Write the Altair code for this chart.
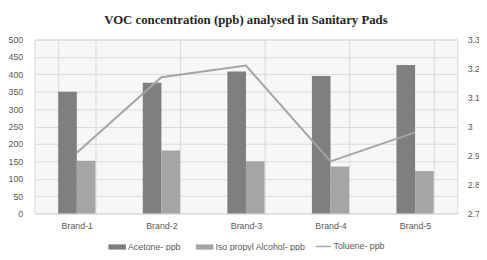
import altair as alt
import pandas as pd

brands = ["Brand-1", "Brand-2", "Brand-3", "Brand-4", "Brand-5"]
acetone = [350, 376, 408, 395, 427]
iso_propyl = [152, 181, 150, 135, 122]
toluene = [2.91, 3.17, 3.21, 2.88, 2.98]

s_ace = "Acetone- ppb"
s_iso = "Iso propyl Alcohol- ppb"
s_tol = "Toluene- ppb"

bars = pd.DataFrame(
    {"brand": brands * 2,
     "series": [s_ace] * 5 + [s_iso] * 5,
     "value": acetone + iso_propyl}
)
line = pd.DataFrame({"brand": brands, "series": [s_tol] * 5, "value": toluene})

font = "Liberation Sans"

xenc = alt.X("brand:N", sort=brands, title=None,
             scale=alt.Scale(paddingInner=0.56, paddingOuter=0.28),
             axis=alt.Axis(labelAngle=0, labelFontSize=9, labelColor="#595959",
                           labelFont=font, ticks=False, domain=False,
                           grid=True, gridColor="#d9d9d9", tickBand="extent",
                           labelPadding=8))

bar_layer = alt.Chart(bars).mark_bar().encode(
    x=xenc,
    xOffset=alt.XOffset("series:N", sort=[s_ace, s_iso]),
    y=alt.Y("value:Q", title=None,
            scale=alt.Scale(domain=[0, 500], nice=False),
            axis=alt.Axis(values=list(range(0, 501, 50)), labelFontSize=9,
                          labelColor="#595959", labelFont=font, ticks=False,
                          domain=False, gridColor="#d9d9d9", labelPadding=12)),
    color=alt.Color("series:N", sort=[s_ace, s_iso],
                    scale=alt.Scale(domain=[s_ace, s_iso], range=["#7f7f7f", "#a5a5a5"]),
                    legend=alt.Legend(title=None, orient="none", direction="horizontal",
                                      legendX=75, legendY=202,
                                      symbolType="M-1,-0.3H1V0.3H-1Z", symbolSize=320,
                                      labelFontSize=9, labelColor="#595959", labelFont=font,
                                      labelOffset=2, columnPadding=15, symbolStrokeWidth=0)),
)

line_layer = alt.Chart(line).mark_line(strokeWidth=2).encode(
    x=alt.X("brand:N", sort=brands),
    y=alt.Y("value:Q", title=None,
            scale=alt.Scale(domain=[2.7, 3.3], nice=False, zero=False),
            axis=alt.Axis(orient="right", values=[2.7, 2.8, 2.9, 3.0, 3.1, 3.2, 3.3],
                          format=".1~f", labelFontSize=9, labelColor="#595959",
                          labelFont=font, ticks=False, domain=False, grid=False,
                          labelPadding=10)),
    color=alt.Color("series:N",
                    scale=alt.Scale(domain=[s_tol], range=["#a5a5a5"]),
                    legend=alt.Legend(title=None, orient="none", direction="horizontal",
                                      legendX=285, legendY=202,
                                      symbolType="stroke", symbolStrokeWidth=1.5,
                                      symbolSize=230, labelOffset=2,
                                      labelFontSize=9, labelColor="#595959", labelFont=font)),
)

chart = (
    alt.layer(bar_layer, line_layer)
    .resolve_scale(y="independent", color="independent")
    .properties(
        width=430, height=177,
        title=alt.Title("VOC concentration (ppb) analysed in Sanitary Pads",
                        font="Liberation Serif", fontSize=13, fontWeight="bold",
                        color="#262626", anchor="middle", offset=9),
        autosize=alt.AutoSizeParams(type="none"),
        padding={"left": 27, "top": 30, "right": 22, "bottom": 36},
    )
    .configure_view(fill="#f7f7f7", stroke="#d9d9d9")
)

chart.save("out.html", embed_options={"renderer": "svg", "actions": False})
